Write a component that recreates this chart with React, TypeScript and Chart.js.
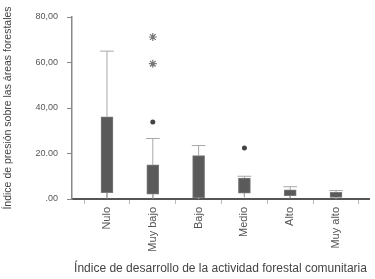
import React, { useEffect, useRef } from "react";
import { Chart, registerables } from "chart.js";

Chart.register(...registerables);

const categories = ["Nulo", "Muy bajo", "Bajo", "Medio", "Alto", "Muy alto"];
const q1 = [2.8, 2.1, 0.6, 2.6, 1.5, 0.7];
const q3 = [36.1, 15.0, 19.1, 9.2, 4.0, 2.9];
const whiskerLow = [0.3, 0.3, 0.0, 0.8, 0.4, 0.2];
const whiskerHigh = [65.0, 26.6, 23.5, 10.0, 5.4, 3.7];
const circleOutliers = [
  { cat: 1, value: 33.8 },
  { cat: 3, value: 22.4 },
];
const starOutliers = [
  { cat: 1, value: 71.2 },
  { cat: 1, value: 59.5 },
];
const yTickLabels = [".00", "20.00", "40,00", "60,00", "80,00"];
const yTitle = "Índice de presión sobre las áreas forestales";
const xTitle = "Índice de desarrollo de la actividad forestal comunitaria";

const FONT = "'Liberation Sans', Arial, Helvetica, sans-serif";
const TXT = "#555555";

export default function App() {
  const ref = useRef<HTMLCanvasElement | null>(null);

  useEffect(() => {
    if (!ref.current) return;
    const cap = 0.15;
    const whiskerData: any[] = [];
    categories.forEach((_, i) => {
      whiskerData.push({ x: i, y: q3[i] }, { x: i, y: whiskerHigh[i] }, { x: i, y: null });
      whiskerData.push({ x: i - cap, y: whiskerHigh[i] }, { x: i + cap, y: whiskerHigh[i] }, { x: i, y: null });
      whiskerData.push({ x: i, y: q1[i] }, { x: i, y: whiskerLow[i] }, { x: i, y: null });
    });

    const chart = new Chart(ref.current, {
      type: "bar",
      data: {
        datasets: [
          {
            type: "line",
            data: whiskerData,
            borderColor: "#a8a8a8",
            borderWidth: 1,
            pointRadius: 0,
            spanGaps: false,
            order: 2,
          } as any,
          {
            type: "bar",
            data: categories.map((_, i) => ({ x: i, y: [q1[i], q3[i]] })),
            backgroundColor: "#5a5a5a",
            borderColor: "#7a7a7a",
            borderWidth: 1,
            borderSkipped: false,
            barThickness: 12,
            order: 1,
          } as any,
          {
            type: "scatter",
            data: circleOutliers.map((o) => ({ x: o.cat, y: o.value })),
            pointStyle: "circle",
            pointRadius: 2.5,
            backgroundColor: "#444444",
            borderColor: "#444444",
            borderWidth: 0,
            order: 0,
          } as any,
          {
            type: "scatter",
            data: starOutliers.map((o) => ({ x: o.cat, y: o.value })),
            pointStyle: "star",
            pointRadius: 4,
            backgroundColor: "#777777",
            borderColor: "#777777",
            borderWidth: 1.2,
            order: 0,
          } as any,
        ],
      },
      options: {
        animation: false,
        responsive: false,
        maintainAspectRatio: false,
        layout: { padding: { left: 0, right: 6, top: 17, bottom: 1 } },
        plugins: { legend: { display: false }, tooltip: { enabled: false } },
        scales: {
          x: {
            type: "linear",
            offset: false,
            min: -0.764,
            max: 5.72,
            afterBuildTicks: (scale: any) => {
              scale.ticks = categories.map((_, i) => ({ value: i }));
            },
            afterFit: (scale: any) => {
              scale.height = 79;
            },
            grid: {
              drawOnChartArea: false,
              drawTicks: true,
              tickLength: 5,
              color: "#bbbbbb",
              lineWidth: 1,
            },
            border: { display: true, color: "#555555", width: 2 },
            ticks: {
              autoSkip: false,
              minRotation: 90,
              maxRotation: 90,
              padding: 3,
              color: TXT,
              font: { family: FONT, size: 11 },
              callback: (v: any) => categories[Number(v)] ?? "",
            },
            title: {
              display: true,
              text: xTitle,
              color: "#444444",
              font: { family: FONT, size: 12 },
              padding: { top: 0, bottom: 2 },
            },
          },
          y: {
            type: "linear",
            min: 0,
            max: 80,
            afterBuildTicks: (scale: any) => {
              scale.ticks = yTickLabels.map((_, i) => ({ value: i * 20 }));
            },
            afterFit: (scale: any) => {
              scale.width = 72;
            },
            grid: {
              drawOnChartArea: false,
              drawTicks: true,
              tickLength: 5,
              color: "#888888",
              lineWidth: 1,
            },
            border: { display: true, color: "#888888", width: 1.5 },
            ticks: {
              padding: 9,
              color: TXT,
              font: { family: FONT, size: 9 },
              callback: (v: any) => yTickLabels[Math.round(Number(v) / 20)] ?? "",
            },
            title: {
              display: true,
              text: yTitle,
              color: "#444444",
              font: { family: FONT, size: 10.5 },
              padding: { top: 2, bottom: 0 },
            },
          },
        },
      },
    });
    return () => chart.destroy();
  }, []);

  return (
    <div style={{ position: "absolute", left: 0, top: 0, width: 375, height: 279, background: "#fff" }}>
      <canvas ref={ref} width={375} height={279} style={{ display: "block", width: 375, height: 279 }} />
    </div>
  );
}
